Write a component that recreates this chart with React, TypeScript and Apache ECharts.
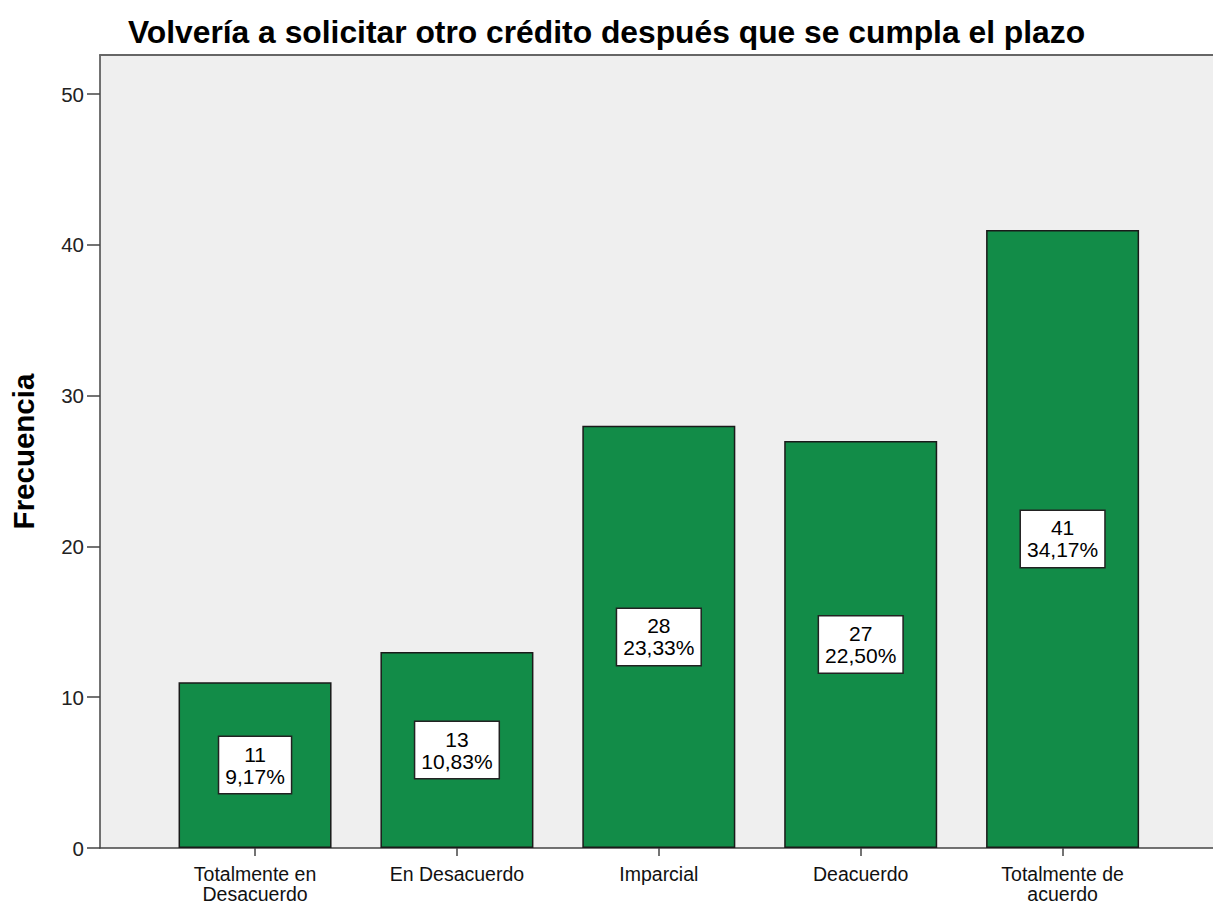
import React, { useEffect, useRef } from "react";
import * as echarts from "echarts";

const TITLE = "Volvería a solicitar otro crédito después que se cumpla el plazo";
const Y_NAME = "Frecuencia";
const categories = [
  "Totalmente en\nDesacuerdo",
  "En Desacuerdo",
  "Imparcial",
  "Deacuerdo",
  "Totalmente de\nacuerdo",
];
const counts = [11, 13, 28, 27, 41];
const percents = ["9,17%", "10,83%", "23,33%", "22,50%", "34,17%"];
const yTicks = [0, 10, 20, 30, 40, 50];

const FONT = "'Liberation Sans', Arial, sans-serif";

export default function App() {
  const ref = useRef<HTMLDivElement>(null);
  useEffect(() => {
    document.body.style.margin = "0";
    if (!ref.current) return;
    const chart = echarts.init(ref.current, undefined, { renderer: "svg" });
    const idx = categories.map((_, i) => i);
    chart.setOption({
      animation: false,
      backgroundColor: "#ffffff",
      title: {
        text: TITLE,
        left: "center",
        top: 11,
        textStyle: { fontFamily: FONT, fontWeight: "bold", fontSize: 31.8, color: "#000" },
      },
      grid: {
        left: 97,
        top: 55,
        right: 0,
        bottom: 57,
        show: true,
        backgroundColor: "#efefef",
        borderWidth: 0,
      },
      xAxis: [
        {
          type: "value",
          min: -0.768,
          max: 4.745,
          splitLine: { show: false },
          axisLine: { show: true, onZero: false, lineStyle: { color: "#444", width: 1.5 } },
          axisTick: {
            show: true,
            customValues: idx,
            length: 8,
            lineStyle: { color: "#444", width: 1.5 },
          },
          axisLabel: {
            show: true,
            customValues: idx,
            formatter: (v: number) => categories[Math.round(v)] ?? "",
            fontFamily: FONT,
            fontSize: 19.5,
            lineHeight: 20,
            color: "#111",
            margin: 16,
            verticalAlign: "top",
          },
        },
        {
          type: "value",
          position: "top",
          min: -0.768,
          max: 4.745,
          splitLine: { show: false },
          axisLine: { show: true, onZero: false, lineStyle: { color: "#666", width: 2 } },
          axisTick: { show: false },
          axisLabel: { show: false },
        },
      ],
      yAxis: {
        type: "value",
        min: 0,
        max: 52.6,
        interval: 10,
        name: Y_NAME,
        nameLocation: "middle",
        nameRotate: 90,
        nameGap: 62,
        nameTextStyle: { fontFamily: FONT, fontWeight: "bold", fontSize: 29.5, color: "#000" },
        splitLine: { show: false },
        axisLine: { show: true, onZero: false, lineStyle: { color: "#444", width: 1.5 } },
        axisTick: { show: true, length: 13, lineStyle: { color: "#444", width: 1.5 }, customValues: yTicks },
        axisLabel: {
          fontFamily: FONT,
          fontSize: 20.5,
          color: "#222",
          margin: 16,
          customValues: yTicks,
        },
      },
      series: [
        {
          type: "bar",
          xAxisIndex: 0,
          barWidth: 153,
          data: counts.map((v, i) => [i, v]),
          itemStyle: { color: "#128c48", borderColor: "#1a1a1a", borderWidth: 1.5 },
          label: {
            show: true,
            position: "inside",
            formatter: (p: any) => `${counts[p.dataIndex]}\n${percents[p.dataIndex]}`,
            fontFamily: FONT,
            fontSize: 21,
            lineHeight: 22,
            color: "#000",
            backgroundColor: "#ffffff",
            borderColor: "#222",
            borderWidth: 1.5,
            padding: [6, 6, 6, 6],
            align: "center",
          },
        },
      ],
    });
    return () => chart.dispose();
  }, []);
  return <div ref={ref} style={{ width: 1213, height: 905 }} />;
}
